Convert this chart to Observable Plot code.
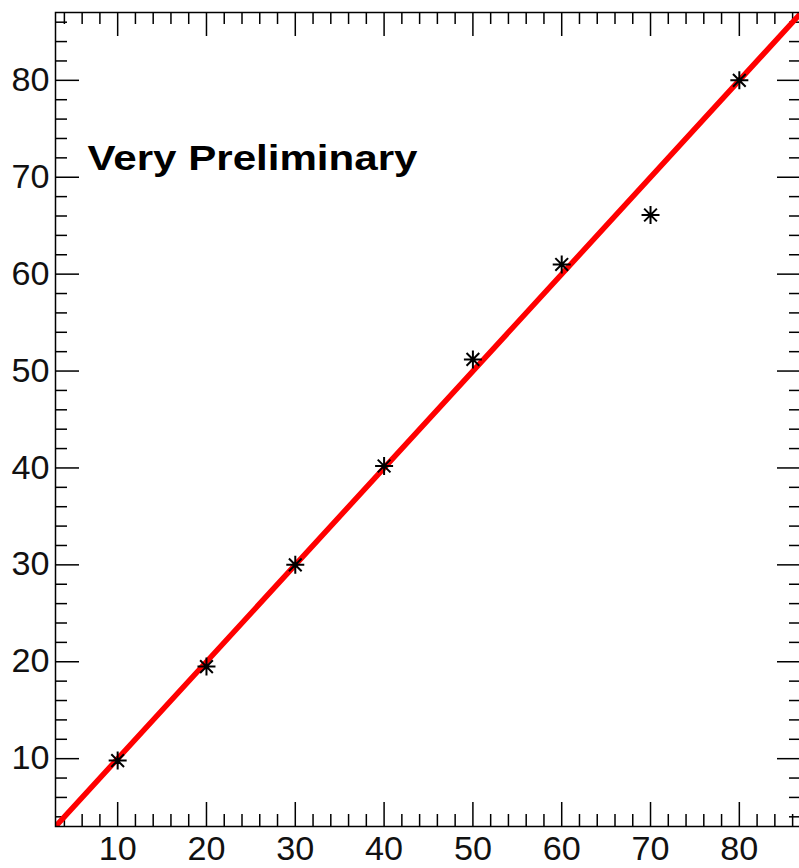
<!DOCTYPE html>
<html>
<head>
<meta charset="utf-8">
<script src="https://cdn.jsdelivr.net/npm/d3@7"></script>
<script src="https://cdn.jsdelivr.net/npm/@observablehq/plot@0.6"></script>
<style>
  html, body { margin: 0; padding: 0; background: white; overflow: hidden; }
</style>
</head>
<body>
<div id="chart"></div>
<script>
// Data points (asterisk markers)
const pointX = [10, 20, 30, 40, 50, 60, 70, 80];
const pointY = [9.8, 19.5, 30.0, 40.2, 51.2, 61.0, 66.1, 80.0];

// Red fit line (y = x) endpoints
const fitX = [3, 87];
const fitY = [3, 87];

// Axis ticks
const majorTicks = [10, 20, 30, 40, 50, 60, 70, 80];
const minorTicks = [4, 6, 8, 12, 14, 16, 18, 22, 24, 26, 28, 32, 34, 36, 38,
  42, 44, 46, 48, 52, 54, 56, 58, 62, 64, 66, 68, 72, 74, 76, 78, 82, 84, 86];

const axisDomain = [3, 87];
const annotation = "Very Preliminary";

const points = pointX.map((x, i) => ({x, y: pointY[i]}));
const fit = fitX.map((x, i) => ({x, y: fitY[i]}));

// 8-armed asterisk marker (ROOT style "*")
const star = {
  draw(context, size) {
    const r = Math.sqrt(size / Math.PI);
    for (let k = 0; k < 4; k++) {
      const a = k * Math.PI / 4;
      const c = Math.cos(a) * r, s = Math.sin(a) * r;
      context.moveTo(c, s);
      context.lineTo(-c, -s);
    }
  }
};

const W = 801, H = 868;
const mT = 12, mB = 42, mL = 55, mR = 0;
const plotW = W - mL - mR, plotH = H - mT - mB;
const majLen = 24, minLen = 12;
const tickStyle = {stroke: "black", strokeWidth: 1.5};

const chart = Plot.plot({
  width: W,
  height: H,
  marginTop: mT,
  marginBottom: mB,
  marginLeft: mL,
  marginRight: mR,
  style: {fontFamily: "'Liberation Sans', Arial, Helvetica, sans-serif", maxWidth: "none", overflow: "hidden", background: "white"},
  x: {domain: axisDomain, label: null},
  y: {domain: axisDomain, label: null},
  marks: [
    // inward ticks, bottom
    Plot.tickX(majorTicks, {x: d => d, ...tickStyle, insetTop: plotH - majLen}),
    Plot.tickX(minorTicks, {x: d => d, ...tickStyle, insetTop: plotH - minLen}),
    // top
    Plot.tickX(majorTicks, {x: d => d, ...tickStyle, insetBottom: plotH - majLen}),
    Plot.tickX(minorTicks, {x: d => d, ...tickStyle, insetBottom: plotH - minLen}),
    // left
    Plot.tickY(majorTicks, {y: d => d, ...tickStyle, insetRight: plotW - majLen}),
    Plot.tickY(minorTicks, {y: d => d, ...tickStyle, insetRight: plotW - minLen}),
    // right
    Plot.tickY(majorTicks, {y: d => d, ...tickStyle, insetLeft: plotW - majLen}),
    Plot.tickY(minorTicks, {y: d => d, ...tickStyle, insetLeft: plotW - minLen}),
    // tick labels
    Plot.axisX(majorTicks, {tickSize: 0, tickPadding: 10, fontSize: 33, fill: "#111", label: null, className: "xlab"}),
    Plot.axisY(majorTicks, {anchor: "left", tickSize: 0, tickPadding: 6, fontSize: 33, fill: "#111", label: null, className: "ylab"}),
    // fit line
    Plot.line(fit, {x: "x", y: "y", stroke: "#ff0000", strokeWidth: 5.5, clip: "frame"}),
    // data points
    Plot.dot(points, {x: "x", y: "y", symbol: star, r: 9, stroke: "black", strokeWidth: 2, fill: "none"}),
    // annotation
    Plot.text([annotation], {
      text: d => d, frameAnchor: "top-left", textAnchor: "start", lineAnchor: "top",
      dx: 32, dy: 133, fontSize: 35, fontWeight: "bold", fill: "black", className: "vp"
    }),
    Plot.frame({stroke: "black", strokeWidth: 1.5})
  ]
});

document.getElementById("chart").appendChild(chart);
const vp = chart.querySelector(".vp text");
if (vp) {
  vp.setAttribute("textLength", "330");
  vp.setAttribute("lengthAdjust", "spacingAndGlyphs");
}
chart.querySelectorAll(".xlab text, .ylab text").forEach(t => {
  t.setAttribute("textLength", "38");
  t.setAttribute("lengthAdjust", "spacingAndGlyphs");
});
</script>
</body>
</html>
